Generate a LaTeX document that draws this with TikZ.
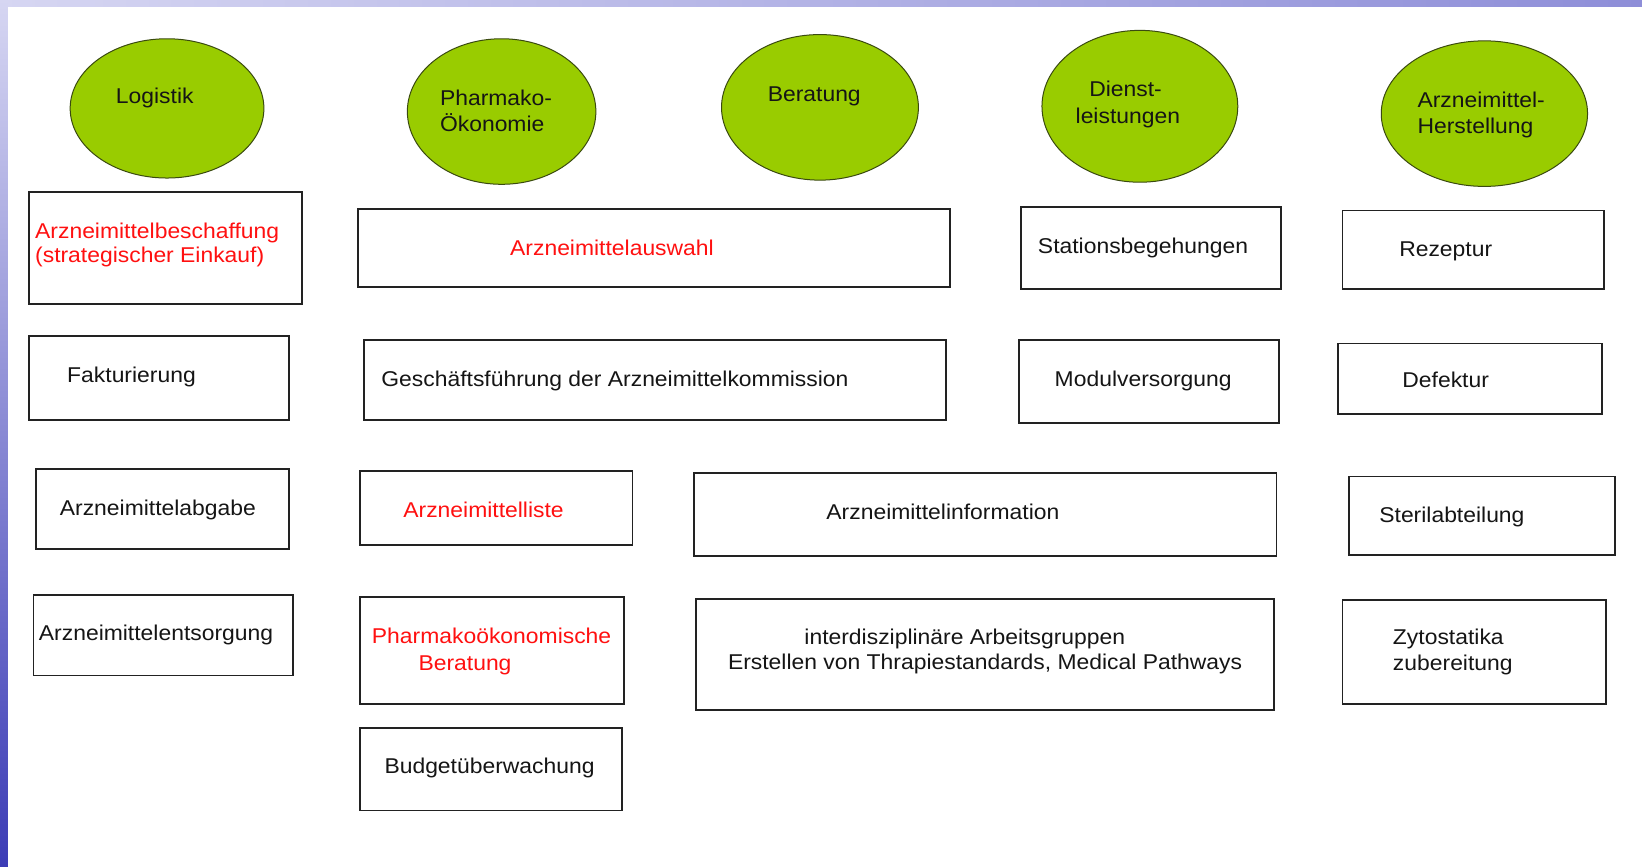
\documentclass[tikz,border=0pt]{standalone}
\usepackage{fontspec}
\setmainfont{Liberation Sans}[FakeStretch=1.07]
\usetikzlibrary{shapes.geometric}
\definecolor{ovalgreen}{HTML}{99CC00}
\definecolor{ovalline}{HTML}{3A4A10}
\definecolor{boxline}{HTML}{222222}
\definecolor{textblack}{HTML}{151515}
\definecolor{textred}{HTML}{FF1010}
\definecolor{bandlight}{HTML}{D6D6F2}
\definecolor{bandmid}{HTML}{8E8ED8}
\definecolor{banddark}{HTML}{3C3CB6}
\newcommand\mybox[5]{%
  \node[box, anchor=north west, minimum width={(#4-#2)*1.0472pt}, minimum height={(#5-#3)*1.0472pt}] (#1) at (#2,#3) {};}
\begin{document}
\begin{tikzpicture}[x=1.0472pt,y=-1.0472pt,
  box/.style={draw=boxline, line width=1.9pt, rectangle, inner sep=0pt, outer sep=0pt},
  oval/.style={ellipse, draw=ovalline, line width=1pt, fill=ovalgreen, inner sep=0pt},
  txt/.style={inner sep=0pt, anchor=base west, font=\fontsize{21.4}{25}\selectfont, text=textblack},
  redtxt/.style={txt, text=textred}]
\useasboundingbox (0,0) rectangle (1568,827);
\fill[white] (0,0) rectangle (1568,827);
% bands
\shade[left color=bandlight, right color=bandmid] (0,0) rectangle (1568,6.5);
\shade[top color=bandlight, bottom color=banddark] (0,0) rectangle (7.5,827);

% ellipses
\node[oval, minimum width=185*1.0472pt, minimum height=133*1.0472pt] (e1) at (159.5,103.5) {};
\node[oval, minimum width=180*1.0472pt, minimum height=139*1.0472pt] (e2) at (479,106.5) {};
\node[oval, minimum width=188*1.0472pt, minimum height=139*1.0472pt] (e3) at (783,102.5) {};
\node[oval, minimum width=187*1.0472pt, minimum height=145*1.0472pt] (e4) at (1088.5,101.5) {};
\node[oval, minimum width=197*1.0472pt, minimum height=139*1.0472pt] (e5) at (1417.5,108.5) {};
\node[txt] (e1t) at (110.5,99) {Logistik};
\node[txt] (e2t1) at (420,101) {Pharmako-};
\node[txt] (e2t2) at (420,126) {Ökonomie};
\node[txt] (e3t) at (733,97) {Beratung};
\node[txt] (e4t1) at (1040,92.5) {Dienst-};
\node[txt] (e4t2) at (1027,118) {leistungen};
\node[txt] (e5t1) at (1353.5,103) {Arzneimittel-};
\node[txt] (e5t2) at (1353.5,127.5) {Herstellung};

% column 1
\mybox{b11}{28}{183}{288}{290}
\node[redtxt] (b11t1) at (33.4,227.6) {Arzneimittelbeschaffung};
\node[redtxt] (b11t2) at (33.4,251) {(strategischer Einkauf)};
\mybox{b12}{28}{321}{276}{401}
\node[txt] (b12t) at (64,365.4) {Fakturierung};
\mybox{b13}{34}{448}{276}{524}
\node[txt] (b13t) at (57,492) {Arzneimittelabgabe};
\mybox{b14}{32}{568}{280}{645}
\node[txt] (b14t) at (37,612) {Arzneimittelentsorgung};

% column 2
\mybox{b21}{342}{200}{907}{274}
\node[redtxt] (b21t) at (487,244) {Arzneimittelauswahl};
\mybox{b22}{348}{325}{903}{401}
\node[txt] (b22t) at (364,369) {Geschäftsführung der Arzneimittelkommission};
\mybox{b23}{344}{450}{604}{520}
\node[redtxt] (b23t) at (385,494) {Arzneimittelliste};
\mybox{b24}{344}{570}{596}{672}
\node[redtxt] (b24t1) at (355,614.3) {Pharmakoökonomische};
\node[redtxt] (b24t2) at (399.5,639.8) {Beratung};
\mybox{b25}{344}{695}{594}{774}
\node[txt] (b25t) at (367,739) {Budgetüberwachung};

% column 3
\mybox{b31}{663}{452}{1219}{531}
\node[txt] (b31t) at (789,496) {Arzneimittelinformation};
\mybox{b32}{665}{572}{1217}{678}
\node[txt] (b32t1) at (768,615) {interdisziplinäre Arbeitsgruppen};
\node[txt] (b32t2) at (695,639) {Erstellen von Thrapiestandards, Medical Pathways};

% column 4
\mybox{b41}{975}{198}{1223}{276}
\node[txt] (b41t) at (991,242) {Stationsbegehungen};
\mybox{b42}{973}{325}{1221}{404}
\node[txt] (b42t) at (1007,369) {Modulversorgung};

% column 5
\mybox{b51}{1282}{201}{1532}{276}
\node[txt] (b51t) at (1336,245) {Rezeptur};
\mybox{b52}{1278}{328}{1530}{395}
\node[txt] (b52t) at (1339,370) {Defektur};
\mybox{b53}{1288}{455}{1542}{530}
\node[txt] (b53t) at (1317,499) {Sterilabteilung};
\mybox{b54}{1282}{573}{1534}{672}
\node[txt] (b54t1) at (1330,615) {Zytostatika};
\node[txt] (b54t2) at (1330,640) {zubereitung};
\end{tikzpicture}
\end{document}
